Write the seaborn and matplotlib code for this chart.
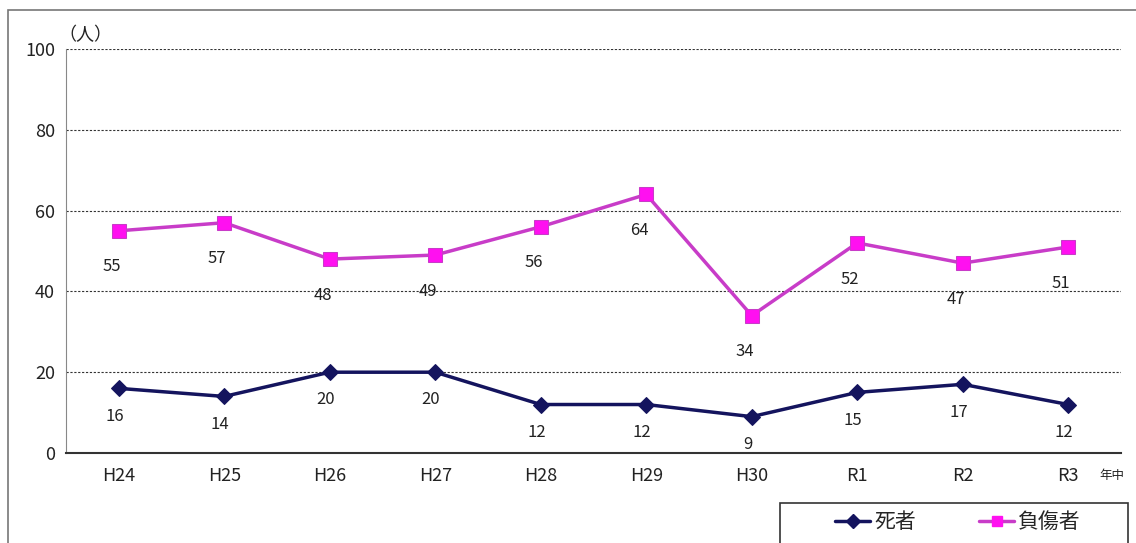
import pandas as pd
import matplotlib
matplotlib.use("Agg")
import matplotlib.pyplot as plt
import seaborn as sns
from matplotlib.patches import Rectangle
from matplotlib.lines import Line2D

years = ["H24", "H25", "H26", "H27", "H28", "H29", "H30", "R1", "R2", "R3"]
deaths = [16, 14, 20, 20, 12, 12, 9, 15, 17, 12]
injured = [55, 57, 48, 49, 56, 64, 34, 52, 47, 51]
yticks = [0, 20, 40, 60, 80, 100]

sns.set_style("white")
plt.rcParams["font.family"] = ["Noto Sans CJK JP", "DejaVu Sans"]

navy = "#14145e"
magenta_line = "#c83cc8"
magenta_mark = "#ff10f0"

df = pd.DataFrame({"年": years, "死者": deaths, "負傷者": injured})

fig = plt.figure(figsize=(11.36, 5.43), dpi=100)
ax = fig.add_axes([66 / 1136, 1 - 453 / 543, (1121 - 66) / 1136, (453 - 49) / 543])

sns.lineplot(data=df, x="年", y="死者", ax=ax, color=navy, linewidth=2.5,
             marker="D", markersize=8, markeredgecolor=navy, markerfacecolor=navy,
             sort=False)
sns.lineplot(data=df, x="年", y="負傷者", ax=ax, color=magenta_line, linewidth=2.5,
             marker="s", markersize=10, markeredgecolor=magenta_line,
             markerfacecolor=magenta_mark, sort=False)

for i, v in enumerate(deaths):
    ax.annotate(str(v), (i, v), xytext=(-3, -20), textcoords="offset points",
                ha="center", va="center", fontsize=12, color="#222222")
for i, v in enumerate(injured):
    ax.annotate(str(v), (i, v), xytext=(-5, -26), textcoords="offset points",
                ha="center", va="center", fontsize=12, color="#222222")

ax.set_xlim(-0.5, len(years) - 0.5)
ax.set_ylim(0, 100)
ax.set_yticks(yticks)
ax.set_yticklabels([str(t) for t in yticks], fontsize=13, color="#222222")
ax.set_xticks(range(len(years)))
ax.set_xticklabels(years, fontsize=13, color="#222222")
ax.set_xticks([i + 0.5 for i in range(-1, len(years))], minor=True)
ax.tick_params(axis="x", which="major", length=0, pad=10)
ax.tick_params(axis="x", which="minor", length=4, direction="in", color="#444444")
ax.tick_params(axis="y", length=0, pad=8)
ax.set_xlabel("")
ax.set_ylabel("")

for t in yticks[1:]:
    ax.axhline(t, color="#333333", linestyle=(0, (2, 1.5)), linewidth=0.8, zorder=0)

ax.spines["top"].set_visible(False)
ax.spines["right"].set_visible(False)
ax.spines["left"].set_color("#888888")
ax.spines["bottom"].set_color("#333333")
ax.spines["bottom"].set_linewidth(1.5)

fig.text(58 / 1136, 1 - 35 / 543, "（人）", fontsize=13, ha="left", va="center", color="#222222")
fig.text(1112 / 1136, 1 - 476 / 543, "年中", fontsize=9, ha="center", va="center", color="#222222")

# outer frame
fig.patches.append(Rectangle((8 / 1136, -0.05), 1.1, 1 - 10 / 543 + 0.05,
                             transform=fig.transFigure, fill=False,
                             edgecolor="#777777", linewidth=1.2))
# legend frame (runs off the bottom edge)
fig.patches.append(Rectangle((780 / 1136, -0.05), (1128 - 780) / 1136, (543 - 503) / 543 + 0.05,
                             transform=fig.transFigure, fill=False,
                             edgecolor="#333333", linewidth=1.2))

handles = [
    Line2D([0], [0], color=navy, linewidth=2.5, marker="D", markersize=7),
    Line2D([0], [0], color=magenta_line, linewidth=2.5, marker="s", markersize=7,
           markerfacecolor=magenta_mark, markeredgecolor=magenta_mark),
]
fig.legend(handles, ["死者", "負傷者"], ncol=2, loc="center",
           bbox_to_anchor=(958 / 1136, 1 - 522 / 543),
           fontsize=15, frameon=False, handlelength=1.7, handletextpad=0.2,
           columnspacing=3.0)

fig.savefig("out.png", dpi=100)
